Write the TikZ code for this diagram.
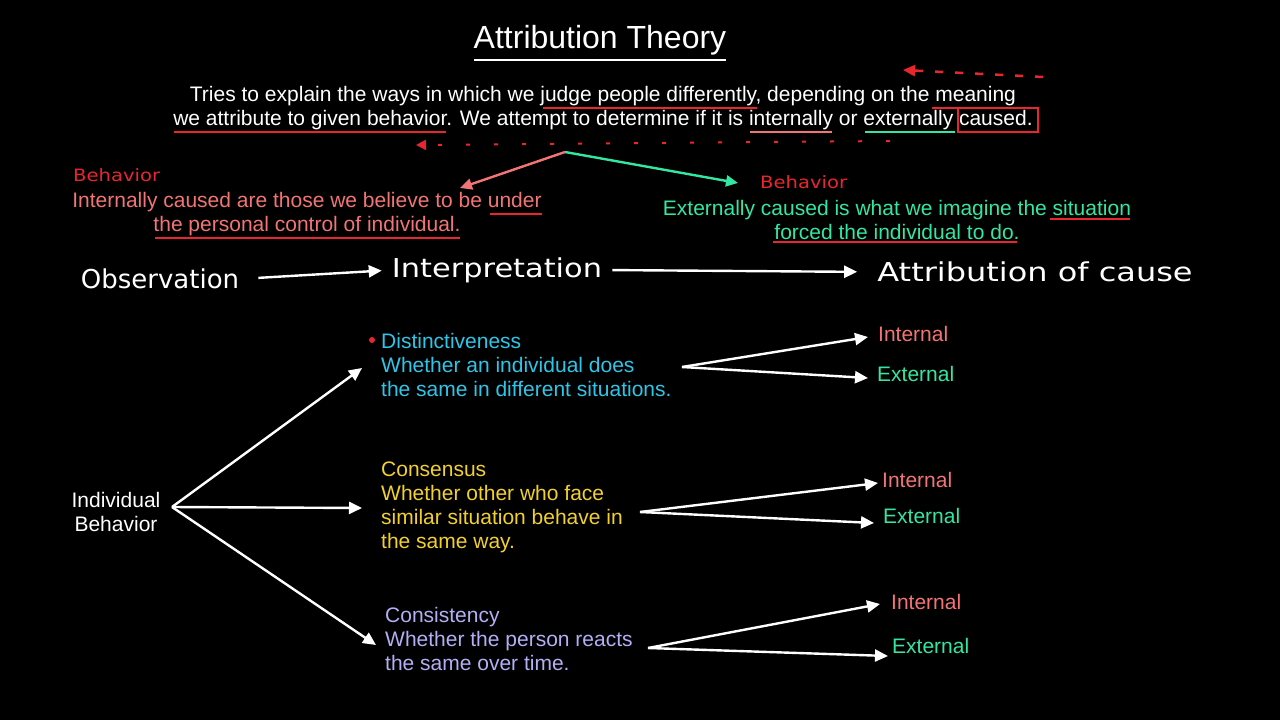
\documentclass[tikz,border=0pt]{standalone}
\usepackage{fontspec}
\setmainfont{Liberation Sans}
\newfontfamily\handfont{DejaVu Sans}
\usetikzlibrary{arrows.meta}
\definecolor{chalkRed}{HTML}{E8262E}
\definecolor{intColor}{HTML}{F27474}
\definecolor{extColor}{HTML}{33E6A2}
\definecolor{distColor}{HTML}{2EC6E8}
\definecolor{consColor}{HTML}{F2D12A}
\definecolor{consiColor}{HTML}{B4AEF4}

\begin{document}
\begin{tikzpicture}[x=1pt,y=-1pt,
  every node/.style={inner sep=0pt},
  body/.style={font=\fontsize{21}{24}\selectfont},
  block/.style={body, align=left, anchor=north west},
  hand/.style={font=\handfont\fontsize{26}{30}\selectfont, white},
  tag/.style={font=\handfont\fontsize{17}{20}\selectfont, chalkRed, anchor=west, xscale=1.15},
  branch/.style={white, line width=2.4pt, -{Triangle[length=13pt,width=12pt]}},
  redline/.style={chalkRed, line width=2.5pt}]
\fill[black] (0,0) rectangle (1280,720);

% title and definition
\node[white, font=\fontsize{32}{36}\selectfont] (title) at (600,40) {Attribution Theory};
\draw[white, line width=2.5pt] (474,60) -- (726,60);

\node[body, white, align=center] (intro) at (603,108) {Tries to explain the ways in which we judge people differently, depending on the meaning\\we attribute to given behavior. We attempt to determine if it is internally or externally caused.};
\draw[redline] (543,108) -- (757,108);
\draw[redline] (932,108) -- (1010,108);
\draw[redline] (174,132) -- (446,132);
\draw[intColor, line width=2.5pt] (750,132) -- (832,132);
\draw[extColor, line width=2.5pt] (865,132) -- (955,132);
\draw[chalkRed, line width=2pt] (958,108) rectangle (1038,132);
\draw[chalkRed, line width=2.5pt, dash pattern=on 8pt off 12pt, -{Triangle[length=12pt,width=11pt]}] (1043,77) -- (903,70);
\draw[chalkRed, line width=2pt, dash pattern=on 4pt off 24pt, -{Triangle[length=10pt,width=10pt]}] (890,141) -- (416,145);

% internal / external
\coordinate (apex) at (565,152);
\coordinate (intTip) at (460,188);
\coordinate (extTip) at (738,183);
\draw[intColor, line width=2.4pt, -{Triangle[length=12pt,width=11pt]}] (apex) -- (intTip);
\draw[extColor, line width=2.4pt, -{Triangle[length=12pt,width=11pt]}] (apex) -- (extTip);

\node[tag] (behInt) at (73,175) {Behavior};
\node[tag] (behExt) at (760,182) {Behavior};

\node[body, intColor, align=center] (intDef) at (307,214) {Internally caused are those we believe to be under\\the personal control of individual.};
\draw[redline] (490,214) -- (542,214);
\draw[redline] (155,238) -- (460,238);

\node[body, extColor, align=center] (extDef) at (897,220) {Externally caused is what we imagine the situation\\forced the individual to do.};
\draw[redline] (1050,219) -- (1130,219);
\draw[redline] (773,242) -- (1017,242);

% observation chain
\node[hand] (obs) at (160,279) {Observation};
\node[hand, xscale=1.17] (interp) at (497,270) {Interpretation};
\node[hand, xscale=1.23] (cause) at (1035,272) {Attribution of cause};
\draw[branch, shorten <=19pt, shorten >=10pt] (obs.east) -- (interp.west);
\draw[branch, shorten <=10pt, shorten >=20pt] (interp.east) -- (cause.west);

% individual behavior
\node[body, white, align=center] (ib) at (116,512) {Individual\\Behavior};
\coordinate (ibOut) at (172,507);
\coordinate (distIn) at (362,368);
\coordinate (consIn) at (362,508);
\coordinate (consiIn) at (376,645);
\draw[branch] (ibOut) -- (distIn);
\draw[branch] (ibOut) -- (consIn);
\draw[branch] (ibOut) -- (consiIn);

% distinctiveness
\fill[chalkRed] (372,340) circle (3);
\node[block, distColor] (dist) at (381,333) {Distinctiveness\\Whether an individual does\\the same in different situations.};
\node[body, intColor, anchor=west] (distInt) at (878,334) {Internal};
\node[body, extColor, anchor=west] (distExt) at (877,374) {External};
\coordinate (distOut) at (682,367);
\draw[branch] (distOut) -- (868,337);
\draw[branch] (distOut) -- (868,378);

% consensus
\node[block, consColor] (cons) at (381,462) {Consensus\\Whether other who face\\similar situation behave in\\the same way.};
\node[body, intColor, anchor=west] (consInt) at (882,480) {Internal};
\node[body, extColor, anchor=west] (consExt) at (883,516) {External};
\coordinate (consOut) at (640,512);
\draw[branch] (consOut) -- (878,483);
\draw[branch] (consOut) -- (874,523);

% consistency
\node[block, consiColor] (consi) at (385,607) {Consistency\\Whether the person reacts\\the same over time.};
\node[body, intColor, anchor=west] (consiInt) at (891,602) {Internal};
\node[body, extColor, anchor=west] (consiExt) at (892,646) {External};
\coordinate (consiOut) at (648,648);
\draw[branch] (consiOut) -- (880,604);
\draw[branch] (consiOut) -- (888,656);
\end{tikzpicture}
\end{document}
